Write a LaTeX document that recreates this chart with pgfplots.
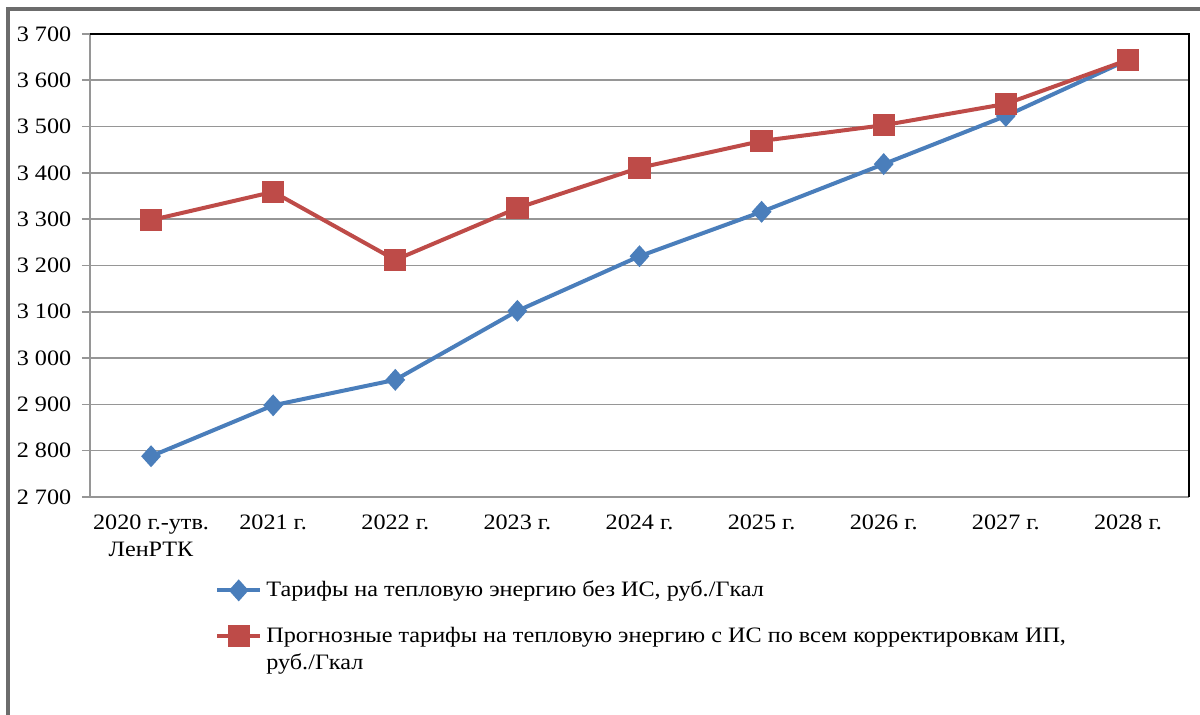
\documentclass[border=0pt]{standalone}
\usepackage{fontspec}
\setmainfont[FakeStretch=1.1]{Liberation Serif}
\usepackage{amsmath}
\usepackage{pgfplots}
\pgfplotsset{compat=1.18}
\definecolor{xlblue}{RGB}{74,126,187}
\definecolor{xlred}{RGB}{190,75,72}
\definecolor{gridc}{RGB}{150,150,150}
\newcommand{\lf}{\fontsize{11}{13.5}\selectfont}
\begin{document}
\lf
\begin{tikzpicture}
\useasboundingbox (0,0) rectangle (600pt,357.5pt);
\draw[gray!85!black, line width=1.6pt] (4pt,-10pt) -- (4pt,353pt) -- (610pt,353pt);
\begin{axis}[
  at={(45pt,109pt)}, anchor=south west,
  scale only axis, width=549.5pt, height=231.5pt,
  xmin=-0.5, xmax=8.5, ymin=2700, ymax=3700,
  ytick={2700,2800,...,3700},
  axis x line*=bottom, axis y line*=left,
  axis line style={gridc, line width=0.8pt},
  ymajorgrids, grid style={gridc, line width=0.8pt},
  xtick={0,...,8},
  xticklabels={{2020 г.-утв.\\ЛенРТК},2021 г.,2022 г.,2023 г.,2024 г.,2025 г.,2026 г.,2027 г.,2028 г.},
  xticklabel style={align=center, font=\lf, yshift=-1pt},
  xtick style={draw=none},
  extra x ticks={-0.5,0.5,...,8.5},
  extra x tick labels={},
  extra x tick style={tick style={draw=gridc, line width=0.8pt}, grid=none},
  tick align=outside, major tick length=4pt,
  ytick style={draw=gridc, line width=0.8pt},
  yticklabel style={font=\lf, xshift=-1.5pt},
  /pgf/number format/.cd, 1000 sep={\ }, assume math mode=true,
  /pgfplots/.cd,
  legend style={at={(axis description cs:0.108,-0.163)}, anchor=north west, draw=none,
    font=\lf, row sep=9.5pt},
  legend cell align=left,
  legend image code/.code={\draw[mark repeat=2,mark phase=2] plot coordinates {(0cm,0cm) (0.38cm,0cm) (0.76cm,0cm)};},
  after end axis/.code={\draw[black, line width=0.8pt] (rel axis cs:0,1) -- (rel axis cs:1,1) -- (rel axis cs:1,0);},
]
\addplot[xlblue, line width=2pt, mark=diamond*, mark size=4pt, mark options={xscale=1.2}]
  coordinates {(0,2788) (1,2898) (2,2953) (3,3102) (4,3220) (5,3316) (6,3419) (7,3523) (8,3644)};
\addlegendentry{Тарифы на тепловую энергию без ИС, руб./Гкал}
\addplot[xlred, line width=2pt, mark=square*, mark size=4.6pt]
  coordinates {(0,3298) (1,3359) (2,3212) (3,3324) (4,3411) (5,3469) (6,3503) (7,3549) (8,3644)};
\addlegendentry{\smash[b]{\vtop{\hbox{Прогнозные тарифы на тепловую энергию с ИС по всем корректировкам ИП,}\hbox{руб./Гкал}}}}
\end{axis}
\end{tikzpicture}
\end{document}
